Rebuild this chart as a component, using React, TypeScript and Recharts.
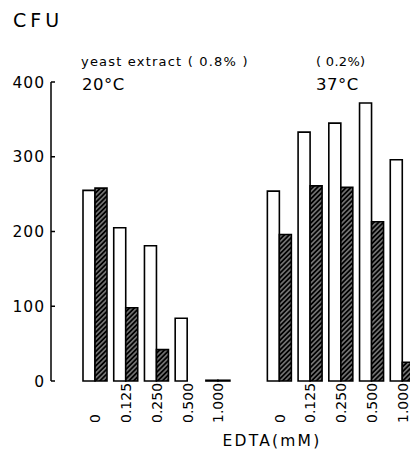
import { BarChart, Bar, XAxis, YAxis } from 'recharts'

// EDTA concentrations (mM), same for both temperatures
const edtaLabels = ['0', '0.125', '0.250', '0.500', '1.000']

// CFU, 20°C, yeast extract 0.8%
const plain20 = [255, 205, 181, 84, 1]
const hatched20 = [258, 98, 42, 0, 1]

// CFU, 37°C, yeast extract 0.2%
const plain37 = [254, 333, 345, 372, 296]
const hatched37 = [196, 261, 259, 213, 25]

const yTicks = [0, 100, 200, 300, 400]

// one empty slot between the two temperature groups
const data = [
  ...edtaLabels.map((label, i) => ({ slot: `a${i}`, label, plain: plain20[i], hatched: hatched20[i] })),
  { slot: 'gap', label: '', plain: 0, hatched: 0 },
  ...edtaLabels.map((label, i) => ({ slot: `b${i}`, label, plain: plain37[i], hatched: hatched37[i] })),
]

const FONT = '"DejaVu Sans", sans-serif'

const YTick = ({ x, y, payload }: any) => (
  <g>
    <text x={x} y={y} dy={5.5} textAnchor="end" fontSize={15.5} fontFamily={FONT} letterSpacing={1} fill="#000">
      {payload.value}
    </text>
    <line x1={x + 6} x2={x + 10} y1={y} y2={y} stroke="#000" strokeWidth={1.5} />
  </g>
)

const XTick = ({ x, y, payload }: any) => {
  const row = data.find(d => d.slot === payload.value)
  if (!row || !row.label) return null
  const ty = y + 42
  return (
    <text
      x={x}
      y={ty}
      dy={5}
      transform={`rotate(-90 ${x} ${ty})`}
      textAnchor="start"
      fontSize={14}
      fontFamily={FONT}
      fill="#000"
    >
      {row.label}
    </text>
  )
}

export default function App() {
  return (
    <div style={{ position: 'absolute', left: 0, top: 0, width: 410, height: 454, overflow: 'hidden', background: '#fff' }}>
      <BarChart
        width={430}
        height={454}
        data={data}
        margin={{ top: 82, right: 12, bottom: 0, left: 0 }}
        barGap={0}
        barSize={12}
      >
        <defs>
          <pattern id="hatch" patternUnits="userSpaceOnUse" width={3.4} height={3.4} patternTransform="rotate(45)">
            <rect width={3.4} height={3.4} fill="#000" />
            <line x1={1.7} y1={0} x2={1.7} y2={3.4} stroke="#fff" strokeWidth={0.75} />
          </pattern>
        </defs>
        <XAxis
          dataKey="slot"
          height={73}
          axisLine={false}
          tickLine={false}
          tickSize={0}
          tickMargin={0}
          interval={0}
          padding={{ left: 29, right: 0 }}
          tick={<XTick />}
        />
        <YAxis
          width={51}
          domain={[0, 400]}
          ticks={yTicks}
          tickSize={0}
          tickMargin={6}
          tickLine={false}
          axisLine={{ stroke: '#000', strokeWidth: 1.5 }}
          tick={<YTick />}
        />
        <Bar dataKey="plain" fill="#fff" stroke="#000" strokeWidth={1.6} isAnimationActive={false} />
        <Bar dataKey="hatched" fill="url(#hatch)" stroke="#000" strokeWidth={1.6} isAnimationActive={false} />
      </BarChart>
      <svg width={410} height={454} style={{ position: 'absolute', left: 0, top: 0, pointerEvents: 'none' }}>
        <g fontFamily={FONT} fill="#000">
          <text x={13} y={27} fontSize={19} letterSpacing={4}>CFU</text>
          <text x={81} y={66} fontSize={13} letterSpacing={1.2}>yeast extract ( 0.8% )</text>
          <text x={316} y={66} fontSize={13} letterSpacing={0.3}>( 0.2%)</text>
          <text x={82} y={90} fontSize={16.5} letterSpacing={0.5}>20°C</text>
          <text x={316} y={90} fontSize={16.5} letterSpacing={0.5}>37°C</text>
          <text x={272} y={446} fontSize={15.5} letterSpacing={2.2} textAnchor="middle">EDTA(mM)</text>
        </g>
      </svg>
    </div>
  )
}
